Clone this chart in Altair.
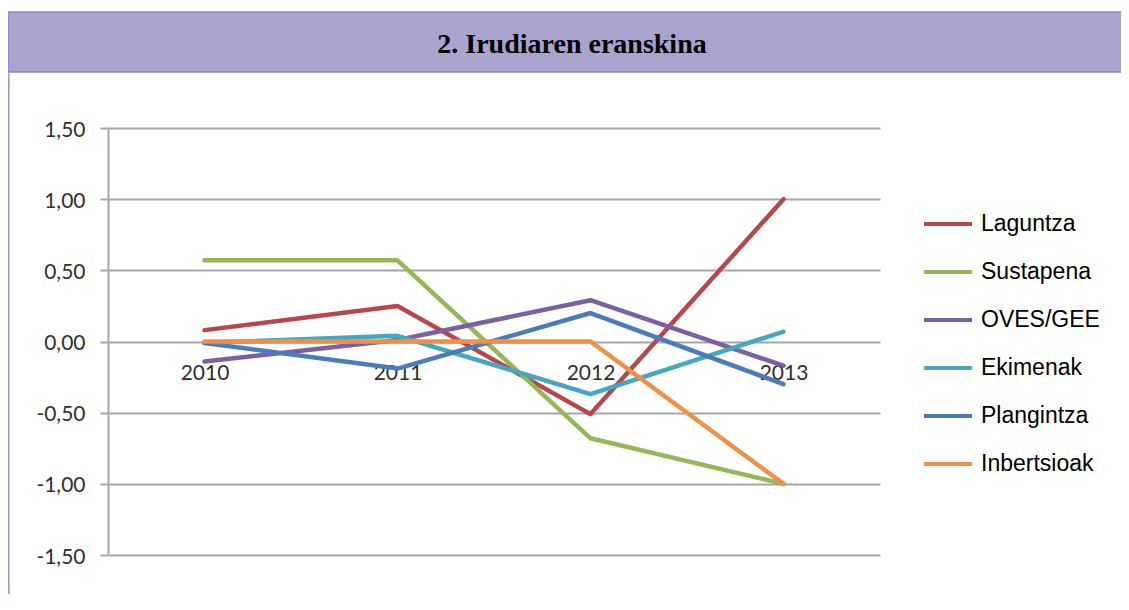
import altair as alt
import pandas as pd

years = ["2010", "2011", "2012", "2013"]
series_names = ["Laguntza", "Sustapena", "OVES/GEE", "Ekimenak", "Plangintza", "Inbertsioak"]
laguntza = [0.08, 0.25, -0.51, 1.00]
sustapena = [0.57, 0.57, -0.68, -1.00]
oves_gee = [-0.14, 0.01, 0.29, -0.17]
ekimenak = [-0.01, 0.04, -0.37, 0.07]
plangintza = [-0.01, -0.19, 0.20, -0.30]
inbertsioak = [0.00, 0.00, 0.00, -1.00]
colors = ["#b8474a", "#94b857", "#7d5fa3", "#45a7c2", "#4a7cbb", "#f28e45"]
y_ticks = [-1.5, -1.0, -0.5, 0.0, 0.5, 1.0, 1.5]
title_text = "2. Irudiaren eranskina"

rows = []
for name, vals in zip(series_names, [laguntza, sustapena, oves_gee, ekimenak, plangintza, inbertsioak]):
    for yr, v in zip(years, vals):
        rows.append({"Urtea": yr, "Balioa": v, "Saila": name})
df = pd.DataFrame(rows)

header = alt.Chart(pd.DataFrame({"k": [0]})).mark_rect(
    fill="#a9a3cd", stroke="#8c86c5", strokeWidth=1.5
).encode(x=alt.value(-100), x2=alt.value(1040), y=alt.value(-116), y2=alt.value(-56))

border = alt.Chart(pd.DataFrame({"k": [0]})).mark_rule(
    color="#9a94dd", strokeWidth=1.5
).encode(x=alt.value(-99.2), y=alt.value(-56), y2=alt.value(466))

title = alt.Chart(pd.DataFrame({"t": [title_text]})).mark_text(
    font="Liberation Serif", fontSize=28, fontWeight="bold", color="#000000",
    align="center", baseline="alphabetic"
).encode(x=alt.value(464), y=alt.value(-75), text="t:N")

lines = alt.Chart(df).mark_line(strokeWidth=4.5, strokeJoin="round", strokeCap="round").encode(
    x=alt.X(
        "Urtea:O", sort=years,
        scale=alt.Scale(type="point", padding=0.5),
        axis=alt.Axis(
            title=None, labelAngle=0, domain=False, ticks=False, grid=False,
            offset=-213.5, labelPadding=21, labelFont="Lato", labelFontSize=21,
            labelColor="#303030",
        ),
    ),
    y=alt.Y(
        "Balioa:Q",
        scale=alt.Scale(domain=[-1.5, 1.5], nice=False, zero=False),
        axis=alt.Axis(
            title=None, values=y_ticks,
            labelExpr="replace(replace(format(datum.value, '.2f'), '.', ','), '\u2212', '-')",
            domainColor="#a6a6a6", domainWidth=2, gridColor="#a6a6a6", gridWidth=2,
            tickColor="#a6a6a6", tickWidth=2, tickSize=8, labelPadding=15,
            labelFont="Lato", labelFontSize=21, labelColor="#303030", labelOffset=2,
        ),
    ),
    color=alt.Color(
        "Saila:N", sort=series_names,
        scale=alt.Scale(domain=series_names, range=colors),
        legend=alt.Legend(
            title=None, orient="none", legendX=814, legendY=70, padding=0,
            symbolType="stroke", symbolSize=2304, symbolStrokeWidth=4,
            labelFont="Liberation Sans", labelFontSize=23, labelColor="#000000",
            labelOffset=7, rowPadding=10,
        ),
    ),
)

chart = alt.layer(header, border, title, lines).properties(
    width=772, height=427,
    autosize=alt.AutoSizeParams(type="none"),
    padding={"left": 100, "top": 120, "right": 241, "bottom": 39},
).configure_view(stroke=None)

chart.save("out.html", embed_options={"renderer": "svg", "actions": False})
